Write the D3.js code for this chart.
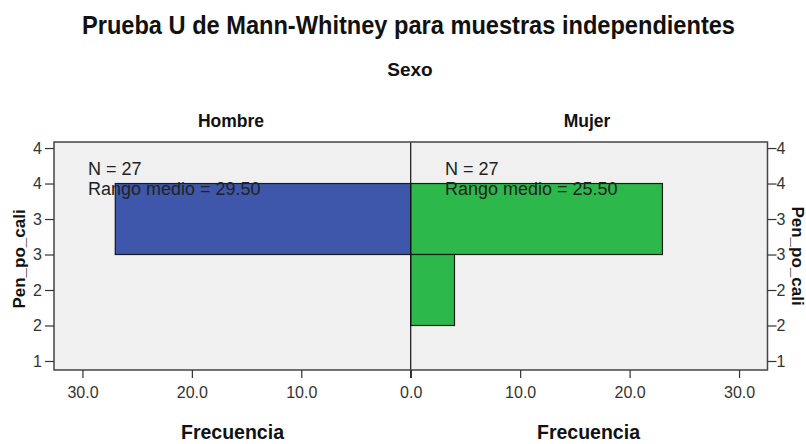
<!DOCTYPE html>
<html>
<head>
<meta charset="utf-8">
<script src="https://cdn.jsdelivr.net/npm/d3@7"></script>
<style>
  body { margin: 0; background: #fff; }
  text { font-family: "Liberation Sans", Arial, sans-serif; }
</style>
</head>
<body>
<svg id="chart" width="806" height="444"></svg>
<script>
/* global d3 */

const groups = ['Hombre', 'Mujer']
const nValues = [27, 27]
const meanRanks = [29.50, 25.50]
const hombreBins = [3]
const hombreCounts = [27]
const mujerBins = [3, 2]
const mujerCounts = [23, 4]
const yTicks = [1, 1.5, 2, 2.5, 3, 3.5, 4]
const xTicks = [0, 10, 20, 30]

const svg = d3.select('#chart')
const plotTop = 142
const plotBottom = 370
const plotLeft = 54
const plotRight = 767.5
const mid = 410.7

const y = d3.scaleLinear().domain([0.873, 4.085]).range([plotBottom, plotTop])
const xL = d3.scaleLinear().domain([0, 32.6]).range([mid, plotLeft])
const xR = d3.scaleLinear().domain([0, 32.6]).range([mid, plotRight])

// plot background
svg.append('rect')
  .attr('x', plotLeft).attr('y', plotTop)
  .attr('width', plotRight - plotLeft).attr('height', plotBottom - plotTop)
  .attr('fill', '#f0f0f0')

const panels = [
  { bins: hombreBins, counts: hombreCounts, x: xL, color: '#3e57aa' },
  { bins: mujerBins, counts: mujerCounts, x: xR, color: '#2db84b' }
]

panels.forEach((p, i) => {
  svg.append('g').selectAll('rect')
    .data(p.bins.map((b, j) => ({ bin: b, count: p.counts[j] })))
    .enter()
    .append('rect')
    .attr('x', d => Math.min(p.x(0), p.x(d.count)))
    .attr('width', d => Math.abs(p.x(d.count) - p.x(0)))
    .attr('y', d => y(d.bin + 0.5))
    .attr('height', d => y(d.bin - 0.5) - y(d.bin + 0.5))
    .attr('fill', p.color)
    .attr('stroke', '#1a1a1a')
    .attr('stroke-width', 1.2)

  const tx = i === 0 ? 88 : 445
  svg.append('text').attr('x', tx).attr('y', 175)
    .attr('font-size', 18).attr('fill', '#222')
    .text('N = ' + nValues[i])
  svg.append('text').attr('x', tx).attr('y', 195)
    .attr('font-size', 18).attr('fill', '#222')
    .text('Rango medio = ' + meanRanks[i].toFixed(2))
})

// center line
svg.append('line')
  .attr('x1', mid).attr('x2', mid)
  .attr('y1', plotTop).attr('y2', plotBottom + 8)
  .attr('stroke', '#111').attr('stroke-width', 1.2)

// frame
svg.append('rect')
  .attr('x', plotLeft).attr('y', plotTop)
  .attr('width', plotRight - plotLeft).attr('height', plotBottom - plotTop)
  .attr('fill', 'none').attr('stroke', '#444').attr('stroke-width', 1.5)

const fmtY = d => Math.floor(d + 0.5)

function styleAxis(g) {
  g.select('.domain').remove()
  g.selectAll('.tick line').attr('stroke', '#333').attr('stroke-width', 1.2)
  g.selectAll('.tick text')
    .attr('fill', '#333')
    .style('font-family', '"Liberation Sans", Arial, sans-serif')
}

svg.append('g')
  .attr('transform', `translate(${plotLeft},0)`)
  .call(d3.axisLeft(y).tickValues(yTicks).tickFormat(fmtY).tickSize(9).tickPadding(3))
  .call(styleAxis)
  .selectAll('.tick text').attr('font-size', 16)

svg.append('g')
  .attr('transform', `translate(${plotRight},0)`)
  .call(d3.axisRight(y).tickValues(yTicks).tickFormat(fmtY).tickSize(9).tickPadding(0))
  .call(styleAxis)
  .selectAll('.tick text').attr('font-size', 16)

const fmtX = d3.format('.1f')
;[xL, xR].forEach((sc, i) => {
  const g = svg.append('g')
    .attr('transform', `translate(0,${plotBottom})`)
    .call(d3.axisBottom(sc).tickValues(xTicks).tickFormat(fmtX).tickSize(8).tickPadding(9))
    .call(styleAxis)
  g.selectAll('.tick text').attr('font-size', 16)
  // both panels share the 0.0 label at the centre
  if (i === 1) g.selectAll('.tick text').filter(d => d === 0).remove()
})

// titles
svg.append('text').attr('x', 82).attr('y', 34)
  .attr('font-size', 25).attr('font-weight', 'bold')
  .attr('textLength', 653).attr('lengthAdjust', 'spacingAndGlyphs')
  .attr('fill', '#111')
  .text('Prueba U de Mann-Whitney para muestras independientes')

svg.append('text').attr('x', 410).attr('y', 76)
  .attr('text-anchor', 'middle').attr('font-size', 19).attr('font-weight', 'bold')
  .attr('fill', '#111')
  .text('Sexo')

const centers = [231, 587]
groups.forEach((g, i) => {
  svg.append('text').attr('x', centers[i]).attr('y', 127)
    .attr('text-anchor', 'middle').attr('font-size', 17.5).attr('font-weight', 'bold')
    .attr('fill', '#111')
    .text(g)
  svg.append('text').attr('x', centers[i] + 1.5).attr('y', 439)
    .attr('text-anchor', 'middle').attr('font-size', 19.5).attr('font-weight', 'bold')
    .attr('fill', '#111')
    .text('Frecuencia')
})

svg.append('text')
  .attr('transform', 'translate(25,259) rotate(-90)')
  .attr('text-anchor', 'middle').attr('font-size', 17).attr('font-weight', 'bold')
  .attr('fill', '#111')
  .text('Pen_po_cali')

svg.append('text')
  .attr('transform', 'translate(792,256) rotate(90)')
  .attr('text-anchor', 'middle').attr('font-size', 17).attr('font-weight', 'bold')
  .attr('fill', '#111')
  .text('Pen_po_cali')
</script>
</body>
</html>
